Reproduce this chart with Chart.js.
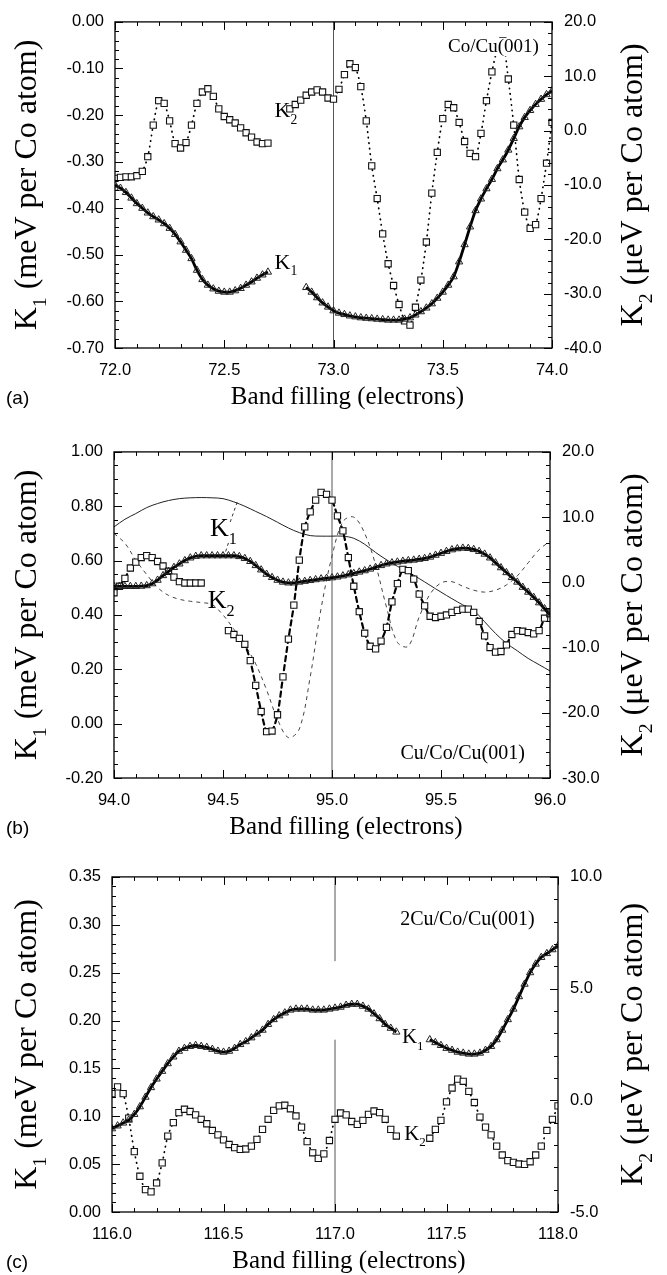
<!DOCTYPE html>
<html>
<head>
<meta charset="utf-8">
<script src="https://cdn.jsdelivr.net/npm/chart.js@4.4.1/dist/chart.umd.min.js"></script>
<style>
  body { margin: 0; background: #fff; width: 667px; height: 1275px; position: relative; overflow: hidden; }
  .panel { position: absolute; left: 0; width: 667px; }
</style>
</head>
<body>
<div class="panel" style="top:0;height:410px"><canvas id="chart-a"></canvas></div>
<div class="panel" style="top:430px;height:420px"><canvas id="chart-b"></canvas></div>
<div class="panel" style="top:855px;height:420px"><canvas id="chart-c"></canvas></div>
<script>
// ---- panel (a) Co/Cu(001) ----
const X_A = [72, 72.025, 72.05, 72.075, 72.1, 72.125, 72.15, 72.175, 72.2, 72.225, 72.25, 72.275, 72.3, 72.325, 72.35, 72.375, 72.4, 72.425, 72.45, 72.475,
  72.5, 72.525, 72.55, 72.575, 72.6, 72.625, 72.65, 72.675, 72.7, 72.725, 72.75, 72.775, 72.8, 72.825, 72.85, 72.875, 72.9, 72.925, 72.95, 72.975,
  73, 73.025, 73.05, 73.075, 73.1, 73.125, 73.15, 73.175, 73.2, 73.225, 73.25, 73.275, 73.3, 73.325, 73.35, 73.375, 73.4, 73.425, 73.45, 73.475,
  73.5, 73.525, 73.55, 73.575, 73.6, 73.625, 73.65, 73.675, 73.7, 73.725, 73.75, 73.775, 73.8, 73.825, 73.85, 73.875, 73.9, 73.925, 73.95, 73.975, 74];
const K1_A = [-0.350, -0.357, -0.366, -0.378, -0.390, -0.400, -0.410, -0.418, -0.425, -0.433, -0.443, -0.456, -0.472, -0.490, -0.508, -0.533, -0.553, -0.565, -0.573, -0.578,
  -0.580, -0.580, -0.577, -0.572, -0.565, -0.558, -0.550, -0.543, -0.537, null, null, null, null, null, null, -0.570, -0.580, -0.592, -0.603, -0.612,
  -0.620, -0.625, -0.628, -0.631, -0.633, -0.635, -0.636, -0.637, -0.638, -0.639, -0.640, -0.640, -0.640, -0.638, -0.635, -0.629, -0.622, -0.614, -0.605, -0.593,
  -0.580, -0.565, -0.547, -0.515, -0.478, -0.440, -0.405, -0.380, -0.358, -0.338, -0.315, -0.296, -0.275, -0.250, -0.225, -0.205, -0.190, -0.177, -0.166, -0.156, -0.148];
const K2_A = [-8.8, -8.6, -8.5, -8.5, -8.3, -7.5, -4.8, 1.0, 5.5, 5.0, 1.8, -2.4, -3.2, -2.2, 1.0, 5.0, 7.1, 7.7, 6.3, 4.0,
  2.6, 2.0, 1.4, 0.5, -0.4, -1.2, -2.1, -2.4, -2.3, null, null, null, 4.0, 4.8, 5.6, 6.5, 7.1, 7.5, 7.1, 6.0,
  5.8, 7.6, 10.3, 12.3, 11.6, 8.1, 1.8, -6.5, -12.5, -19.0, -24.5, -28.5, -32.0, -35.0, -35.8, -32.5, -27.5, -20.5, -11.5, -4.0,
  2.2, 4.8, 4.2, 1.5, -2.0, -4.2, -4.8, -0.5, 5.5, 10.8, 15.0, 16.5, 9.5, 1.0, -9.0, -15.0, -18.0, -17.3, -12.5, -6.0, 1.5];

// ---- panel (b) Cu/Co/Cu(001) ----
const X_B = [94, 94.025, 94.05, 94.075, 94.1, 94.125, 94.15, 94.175, 94.2, 94.225, 94.25, 94.275, 94.3, 94.325, 94.35, 94.375, 94.4, 94.425, 94.45, 94.475,
  94.5, 94.525, 94.55, 94.575, 94.6, 94.625, 94.65, 94.675, 94.7, 94.725, 94.75, 94.775, 94.8, 94.825, 94.85, 94.875, 94.9, 94.925, 94.95, 94.975,
  95, 95.025, 95.05, 95.075, 95.1, 95.125, 95.15, 95.175, 95.2, 95.225, 95.25, 95.275, 95.3, 95.325, 95.35, 95.375, 95.4, 95.425, 95.45, 95.475,
  95.5, 95.525, 95.55, 95.575, 95.6, 95.625, 95.65, 95.675, 95.7, 95.725, 95.75, 95.775, 95.8, 95.825, 95.85, 95.875, 95.9, 95.925, 95.95, 95.975, 96];
const K1_B = [0.505, 0.505, 0.505, 0.505, 0.505, 0.506, 0.508, 0.515, 0.528, 0.545, 0.560, 0.575, 0.588, 0.600, 0.610, 0.616, 0.618, 0.618, 0.618, 0.618,
  0.618, 0.618, 0.618, 0.615, 0.608, 0.597, 0.582, 0.566, 0.550, 0.538, 0.528, 0.521, 0.518, 0.518, 0.521, 0.524, 0.527, 0.530, 0.533, 0.535,
  0.537, 0.540, 0.544, 0.548, 0.553, 0.558, 0.563, 0.569, 0.575, 0.582, 0.588, 0.592, 0.595, 0.598, 0.600, 0.602, 0.605, 0.608, 0.613, 0.620,
  0.627, 0.634, 0.640, 0.644, 0.646, 0.645, 0.641, 0.634, 0.624, 0.610, 0.592, 0.574, 0.556, 0.538, 0.521, 0.502, 0.484, 0.465, 0.445, 0.423, 0.400];
const K2_B = [-1.6, -0.6, 0.6, 2.2, 3.1, 3.8, 4.1, 3.8, 3.2, 2.5, 1.7, 0.8, 0.1, -0.1, -0.1, -0.1, -0.1, null, null, null,
  null, -7.4, -8.0, -8.6, -9.5, -12.0, -15.8, -19.8, -22.9, -22.8, -20.3, -14.5, -8.7, -3.5, 3.4, 8.5, 10.8, 12.6, 13.8, 13.5,
  12.6, 10.2, 7.9, 3.8, -0.6, -4.5, -7.8, -9.8, -10.2, -9.0, -6.9, -3.0, -0.2, 2.0, 1.8, 0.5, -1.8, -3.6, -5.2, -5.4,
  -5.2, -5.0, -4.6, -4.3, -4.1, -4.1, -4.6, -6.0, -8.2, -10.0, -10.7, -10.6, -9.6, -8.0, -7.4, -7.5, -7.7, -7.9, -7.4, -5.5, -4.7];
// thin reference curves of panel (b)
const X_B_CALC = [94, 94.05, 94.1, 94.15, 94.2, 94.25, 94.3, 94.35, 94.4, 94.45, 94.5, 94.55, 94.6, 94.65, 94.7, 94.75, 94.8, 94.85, 94.9, 94.95,
  95, 95.05, 95.1, 95.15, 95.2, 95.25, 95.3, 95.35, 95.4, 95.45, 95.5, 95.55, 95.6, 95.65, 95.7, 95.75, 95.8, 95.85, 95.9, 95.95, 96];
const K1_B_CALC = [0.724, 0.752, 0.773, 0.795, 0.810, 0.821, 0.828, 0.831, 0.832, 0.831, 0.828, 0.816, 0.800, 0.781, 0.762, 0.741, 0.720, 0.703, 0.692, 0.690,
  0.690, 0.690, 0.682, 0.660, 0.630, 0.603, 0.579, 0.558, 0.534, 0.509, 0.484, 0.460, 0.437, 0.416, 0.375, 0.332, 0.296, 0.268, 0.240, 0.217, 0.194];
const K2_B_CALC = [7.5, 6.0, 3.4, 1.2, -0.8, -2.0, -2.6, -2.9, -3.1, -3.4, -5.0, -7.2, -9.6, -12.5, -16.5, -21.0, -23.8, -22.5, -14.5, -4.0,
  4.0, 9.3, 10.0, 7.5, 2.7, -3.8, -9.2, -9.8, -5.3, -1.8, -0.1, 0.1, -0.6, -1.2, -1.5, -1.2, -0.4, 1.0, 3.0, 5.0, 6.3];

// ---- panel (c) 2Cu/Co/Cu(001) ----
const X_C = [116, 116.025, 116.05, 116.075, 116.1, 116.125, 116.15, 116.175, 116.2, 116.225, 116.25, 116.275, 116.3, 116.325, 116.35, 116.375, 116.4, 116.425, 116.45, 116.475,
  116.5, 116.525, 116.55, 116.575, 116.6, 116.625, 116.65, 116.675, 116.7, 116.725, 116.75, 116.775, 116.8, 116.825, 116.85, 116.875, 116.9, 116.925, 116.95, 116.975,
  117, 117.025, 117.05, 117.075, 117.1, 117.125, 117.15, 117.175, 117.2, 117.225, 117.25, 117.275, 117.3, 117.325, 117.35, 117.375, 117.4, 117.425, 117.45, 117.475,
  117.5, 117.525, 117.55, 117.575, 117.6, 117.625, 117.65, 117.675, 117.7, 117.725, 117.75, 117.775, 117.8, 117.825, 117.85, 117.875, 117.9, 117.925, 117.95, 117.975, 118];
const K1_C = [0.087, 0.090, 0.093, 0.096, 0.102, 0.110, 0.120, 0.130, 0.139, 0.147, 0.155, 0.162, 0.168, 0.171, 0.173, 0.174, 0.173, 0.172, 0.170, 0.168,
  0.167, 0.168, 0.171, 0.175, 0.178, 0.182, 0.186, 0.190, 0.196, 0.201, 0.205, 0.208, 0.211, 0.212, 0.212, 0.212, 0.211, 0.211, 0.211, 0.212,
  0.213, 0.214, 0.216, 0.217, 0.217, 0.215, 0.212, 0.207, 0.202, 0.196, 0.192, 0.188, null, null, null, null, null, 0.180, 0.177, 0.174,
  0.171, 0.169, 0.167, 0.166, 0.165, 0.165, 0.166, 0.169, 0.173, 0.180, 0.190, 0.201, 0.212, 0.225, 0.238, 0.250, 0.259, 0.266, 0.270, 0.274, 0.278];
const K2_C = [0.3, 0.6, 0.3, -0.8, -2.3, -3.4, -4.0, -4.1, -3.7, -2.8, -1.6, -1.0, -0.55, -0.4, -0.5, -0.65, -0.85, -1.05, -1.35, -1.55,
  -1.77, -1.98, -2.12, -2.2, -2.18, -2.05, -1.75, -1.3, -0.85, -0.45, -0.25, -0.22, -0.38, -0.7, -1.2, -1.85, -2.35, -2.6, -2.4, -1.8,
  -0.85, -0.57, -0.65, -0.95, -1.08, -0.9, -0.63, -0.48, -0.55, -0.85, -1.3, -1.6, null, null, null, null, null, -1.7, -1.3, -0.9,
  -0.07, 0.55, 0.95, 0.85, 0.4, -0.1, -0.75, -1.2, -1.55, -2.05, -2.45, -2.7, -2.78, -2.85, -2.87, -2.75, -2.45, -2.05, -1.35, -0.85, -0.25];

const SERIF = "'Liberation Serif', 'Times New Roman', serif";
const SANS = "'Liberation Sans', Arial, sans-serif";

function pts(xs, ys) {
    return xs.map((x, i) => ({ x: x, y: ys[i] }));
}

// width of a run like K + subscript + rest
function richWidth(ctx, parts, size) {
    let w = 0;
    for (const p of parts) {
        ctx.font = (p.sub ? size * 0.62 : size) + 'px ' + SERIF;
        w += ctx.measureText(p.t).width;
    }
    return w;
}

function drawRich(ctx, parts, x, y, size, align) {
    const w = richWidth(ctx, parts, size);
    let cx = align === 'center' ? x - w / 2 : (align === 'right' ? x - w : x);
    ctx.textAlign = 'left';
    ctx.textBaseline = 'alphabetic';
    for (const p of parts) {
        ctx.font = (p.sub ? size * 0.62 : size) + 'px ' + SERIF;
        ctx.fillText(p.t, cx, y + (p.sub ? size * 0.3 : 0));
        cx += ctx.measureText(p.t).width;
    }
}

function drawTicks(ctx, scale, area, side, minor, major) {
    const n = Math.round((scale.max - scale.min) / minor);
    ctx.beginPath();
    for (let i = 0; i <= n; i++) {
        const v = scale.min + i * minor;
        const r = v / major;
        const len = Math.abs(r - Math.round(r)) < 1e-6 ? 8 : 4;
        const p = Math.round(scale.getPixelForValue(v)) + 0.5;
        if (side === 'bottom') { ctx.moveTo(p, area.bottom); ctx.lineTo(p, area.bottom - len); }
        if (side === 'top') { ctx.moveTo(p, area.top); ctx.lineTo(p, area.top + len); }
        if (side === 'left') { ctx.moveTo(area.left, p); ctx.lineTo(area.left + len, p); }
        if (side === 'right') { ctx.moveTo(area.right, p); ctx.lineTo(area.right - len, p); }
    }
    ctx.stroke();
}

const panelDecor = {
    id: 'panelDecor',
    beforeDatasetsDraw(chart, args, o) {
        const { ctx, chartArea: a, scales } = chart;
        const px = scales.x.getPixelForValue(o.vline);
        ctx.save();
        ctx.strokeStyle = '#555';
        ctx.lineWidth = 1;
        ctx.beginPath();
        if (o.vgap) {
            // the reference line is broken behind the K1 curve
            const g1 = scales.y.getPixelForValue(o.vgap[1]);
            const g2 = scales.y.getPixelForValue(o.vgap[0]);
            ctx.moveTo(px, a.top); ctx.lineTo(px, g1);
            ctx.moveTo(px, g2); ctx.lineTo(px, a.bottom);
        } else {
            ctx.moveTo(px, a.top);
            ctx.lineTo(px, a.bottom);
        }
        ctx.stroke();
        // short dashed pointers from labels to curves
        ctx.setLineDash([3, 3]);
        ctx.strokeStyle = '#333';
        for (const l of (o.leaders || [])) {
            ctx.beginPath();
            ctx.moveTo(scales.x.getPixelForValue(l[0]), scales.y.getPixelForValue(l[1]));
            ctx.lineTo(scales.x.getPixelForValue(l[2]), scales.y.getPixelForValue(l[3]));
            ctx.stroke();
        }
        ctx.restore();
    },
    afterDraw(chart, args, o) {
        const { ctx, chartArea: a, scales } = chart;
        ctx.save();
        ctx.strokeStyle = '#000';
        ctx.lineWidth = 1.3;
        ctx.strokeRect(a.left, a.top, a.right - a.left, a.bottom - a.top);
        ctx.lineWidth = 1;
        drawTicks(ctx, scales.x, a, 'bottom', o.xMinor, o.xMajor);
        drawTicks(ctx, scales.x, a, 'top', o.xMinor, o.xMajor);
        drawTicks(ctx, scales.y, a, 'left', o.yMinor, o.yMajor);
        drawTicks(ctx, scales.y2, a, 'right', o.y2Minor, o.y2Major);

        ctx.fillStyle = '#000';
        // axis titles, both read bottom to top
        const cy = (a.top + a.bottom) / 2;
        ctx.save();
        ctx.translate(28, cy);
        ctx.rotate(-Math.PI / 2);
        drawRich(ctx, [{ t: 'K' }, { t: '1', sub: true }, { t: ' (meV per Co atom)' }], 0, 8, 32, 'center');
        ctx.restore();
        ctx.save();
        ctx.translate(634, cy);
        ctx.rotate(-Math.PI / 2);
        drawRich(ctx, [{ t: 'K' }, { t: '2', sub: true }, { t: ' (\u03bceV per Co atom)' }], 0, 8, 32, 'center');
        ctx.restore();
        drawRich(ctx, [{ t: 'Band filling (electrons)' }], (a.left + a.right) / 2 + 14, a.bottom + 56, 25, 'center');

        ctx.font = '19px ' + SANS;
        ctx.textAlign = 'left';
        ctx.fillText(o.letter, 6, a.bottom + 56);

        // curve labels and system name
        for (const n of o.notes) {
            const x = scales.x.getPixelForValue(n.x);
            const y = scales.y.getPixelForValue(n.y);
            if (n.bg) {
                const w = richWidth(ctx, n.parts, n.size);
                const x0 = n.align === 'right' ? x - w : x;
                ctx.fillStyle = '#fff';
                ctx.fillRect(x0 - 2, y - n.size * 0.72, w + 4, n.size * 0.95);
                ctx.fillStyle = '#000';
            }
            drawRich(ctx, n.parts, x, y, n.size, n.align || 'left');
        }
        ctx.restore();
    }
};

function makeChart(id, cfg) {
    const tickFont = { family: SANS, size: 16.5 };
    return new Chart(document.getElementById(id), {
        type: 'line',
        data: { datasets: cfg.datasets },
        options: {
            responsive: true,
            maintainAspectRatio: false,
            animation: false,
            events: [],
            layout: { padding: { top: cfg.padTop, left: 0, right: 0, bottom: 0 } },
            plugins: {
                legend: { display: false },
                tooltip: { enabled: false },
                panelDecor: cfg.decor
            },
            elements: { line: { tension: 0.25 } },
            scales: {
                x: {
                    type: 'linear', min: cfg.xMin, max: cfg.xMax,
                    grid: { display: false, drawTicks: false }, border: { display: false },
                    ticks: { stepSize: 0.5, padding: 13, maxRotation: 0, color: '#000', font: tickFont,
                        callback: v => v.toFixed(1) },
                    afterFit: s => { s.height = cfg.xHeight; }
                },
                y: {
                    position: 'left', min: cfg.yMin, max: cfg.yMax,
                    grid: { display: false, drawTicks: false }, border: { display: false },
                    ticks: { stepSize: cfg.yStep, padding: 11, color: '#000', font: tickFont,
                        callback: v => (Math.abs(v) < 1e-9 ? 0 : v).toFixed(2) },
                    afterFit: s => { s.width = cfg.left; }
                },
                y2: {
                    position: 'right', min: cfg.y2Min, max: cfg.y2Max,
                    grid: { display: false, drawTicks: false }, border: { display: false },
                    ticks: { stepSize: cfg.y2Step, padding: 12, color: '#000', font: tickFont,
                        callback: v => (Math.abs(v) < 1e-9 ? 0 : v).toFixed(1) },
                    afterFit: s => { s.width = cfg.right; }
                }
            }
        },
        plugins: [panelDecor]
    });
}

function k1Set(xs, ys) {
    return { data: pts(xs, ys), yAxisID: 'y', borderColor: '#000', borderWidth: 2.8, pointStyle: 'triangle',
        pointRadius: 4.2, pointBorderWidth: 1, pointBorderColor: '#222', pointBackgroundColor: 'rgba(255,255,255,0)', order: 1 };
}
function k2Set(xs, ys, dash, width) {
    return { data: pts(xs, ys), yAxisID: 'y2', borderColor: '#000', borderWidth: width, borderDash: dash, borderCapStyle: 'round',
        pointStyle: 'rect', pointRadius: 4.4, pointBorderWidth: 1.1, pointBorderColor: '#111', pointBackgroundColor: '#fff', order: 2 };
}

makeChart('chart-a', {
    xMin: 72, xMax: 74, yMin: -0.7, yMax: 0, yStep: 0.1, y2Min: -40, y2Max: 20, y2Step: 10,
    padTop: 12, left: 115, right: 115, xHeight: 62,
    datasets: [k1Set(X_A, K1_A), k2Set(X_A, K2_A, [0.5, 5], 1.7)],
    decor: {
        vline: 73, xMinor: 0.1, xMajor: 0.5, yMinor: 0.02, yMajor: 0.1, y2Minor: 2, y2Major: 10, letter: '(a)',
        notes: [
            { x: 72.73, y: -0.205, size: 22, parts: [{ t: 'K' }, { t: '2', sub: true }] },
            { x: 72.73, y: -0.530, size: 22, parts: [{ t: 'K' }, { t: '1', sub: true }] },
            { x: 73.94, y: -0.064, size: 19, align: 'right', bg: true, parts: [{ t: 'Co/Cu(001)' }] }
        ]
    }
});

makeChart('chart-b', {
    xMin: 94, xMax: 96, yMin: -0.2, yMax: 1.0, yStep: 0.2, y2Min: -30, y2Max: 20, y2Step: 10,
    padTop: 12, left: 114, right: 117, xHeight: 72,
    datasets: [
        k1Set(X_B, K1_B),
        k2Set(X_B, K2_B, [5, 4], 2.2),
        { data: pts(X_B_CALC, K1_B_CALC), yAxisID: 'y', borderColor: '#222', borderWidth: 1, pointRadius: 0, tension: 0.35, order: 3 },
        { data: pts(X_B_CALC, K2_B_CALC), yAxisID: 'y2', borderColor: '#444', borderWidth: 1, borderDash: [4, 4], pointRadius: 0, tension: 0.35, order: 3 }
    ],
    decor: {
        vline: 95, xMinor: 0.1, xMajor: 0.5, yMinor: 0.05, yMajor: 0.2, y2Minor: 2, y2Major: 10, letter: '(b)',
        leaders: [[94.565, 0.815, 94.53, 0.735], [94.525, 0.665, 94.51, 0.628]],
        notes: [
            { x: 94.44, y: 0.69, size: 26, parts: [{ t: 'K' }, { t: '1', sub: true }] },
            { x: 94.43, y: 0.425, size: 26, parts: [{ t: 'K' }, { t: '2', sub: true }] },
            { x: 95.885, y: -0.13, size: 20, align: 'right', parts: [{ t: 'Cu/Co/Cu(001)' }] }
        ]
    }
});

makeChart('chart-c', {
    xMin: 116, xMax: 118, yMin: 0, yMax: 0.35, yStep: 0.05, y2Min: -5, y2Max: 10, y2Step: 5,
    padTop: 14, left: 112, right: 109, xHeight: 63,
    datasets: [k1Set(X_C, K1_C), k2Set(X_C, K2_C, [0.5, 5], 1.7)],
    decor: {
        vline: 117, vgap: [0.18, 0.262], xMinor: 0.1, xMajor: 0.5, yMinor: 0.01, yMajor: 0.05, y2Minor: 1, y2Major: 5, letter: '(c)',
        notes: [
            { x: 117.30, y: 0.176, size: 21, parts: [{ t: 'K' }, { t: '1', sub: true }] },
            { x: 117.31, y: 0.075, size: 21, parts: [{ t: 'K' }, { t: '2', sub: true }] },
            { x: 117.895, y: 0.300, size: 20, align: 'right', parts: [{ t: '2Cu/Co/Cu(001)' }] }
        ]
    }
});
</script>
</body>
</html>
